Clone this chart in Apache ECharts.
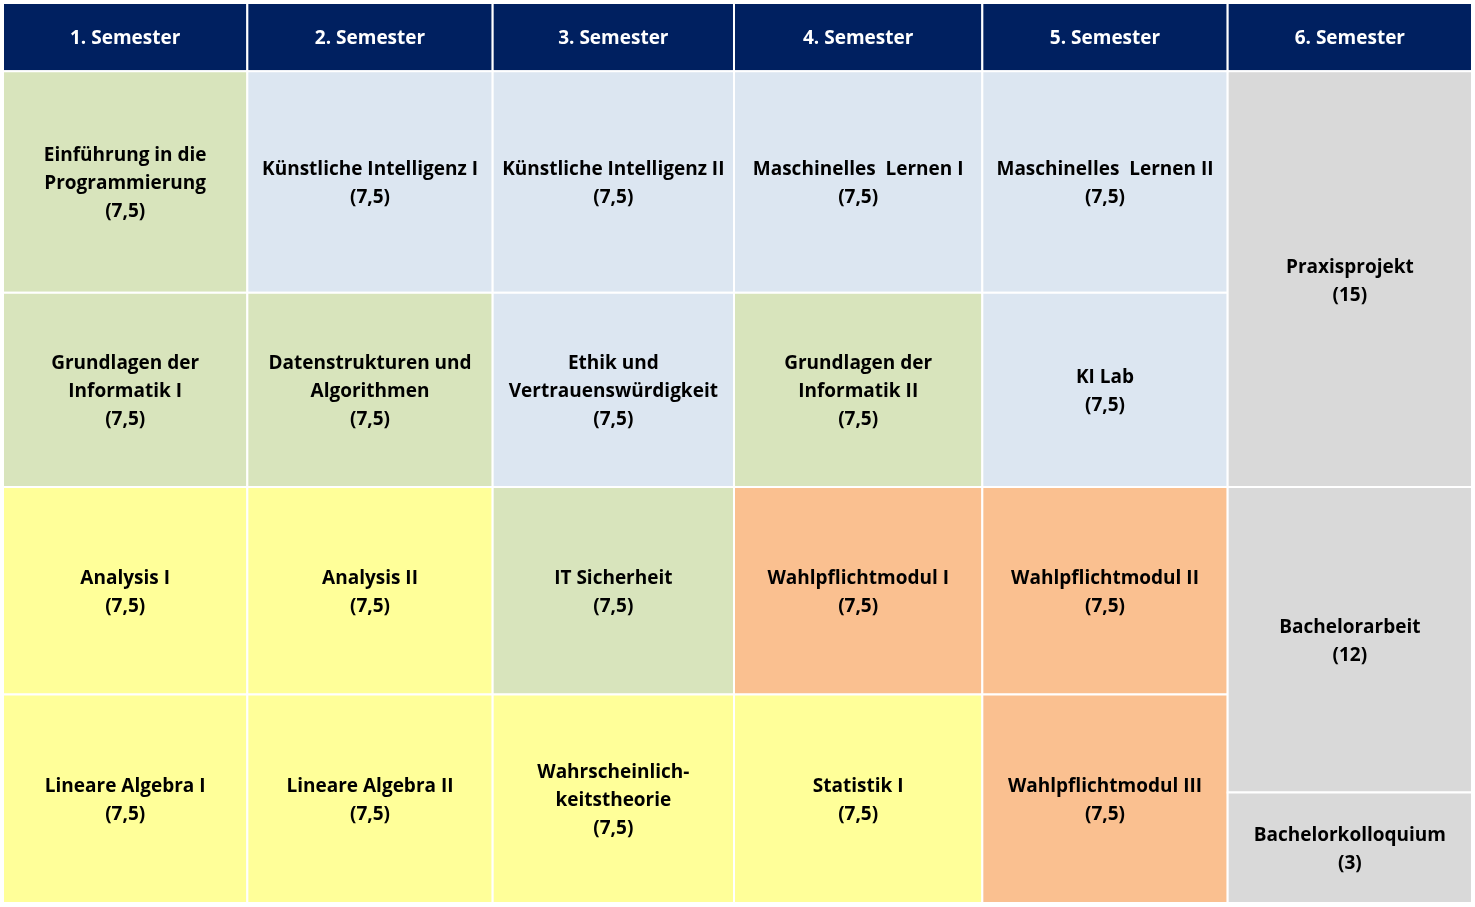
<!DOCTYPE html>
<html>
<head>
<meta charset="utf-8">
<script src="https://cdn.jsdelivr.net/npm/echarts@6/dist/echarts.min.js"></script>
<style>
html,body{margin:0;padding:0;background:#fff;}
#chart{width:1475px;height:907px;}
</style>
</head>
<body>
<div id="chart"></div>
<script>
// ---- data ----
var semesters = ['1. Semester', '2. Semester', '3. Semester', '4. Semester', '5. Semester', '6. Semester'];
var moduleNames = [
  'Einführung in die\nProgrammierung', 'Grundlagen der\nInformatik I', 'Analysis I', 'Lineare Algebra I',
  'Künstliche Intelligenz I', 'Datenstrukturen und\nAlgorithmen', 'Analysis II', 'Lineare Algebra II',
  'Künstliche Intelligenz II', 'Ethik und\nVertrauenswürdigkeit', 'IT Sicherheit', 'Wahrscheinlich-\nkeitstheorie',
  'Maschinelles  Lernen I', 'Grundlagen der\nInformatik II', 'Wahlpflichtmodul I', 'Statistik I',
  'Maschinelles  Lernen II', 'KI Lab', 'Wahlpflichtmodul II', 'Wahlpflichtmodul III',
  'Praxisprojekt', 'Bachelorarbeit', 'Bachelorkolloquium'
];
var moduleSemester = [1,1,1,1, 2,2,2,2, 3,3,3,3, 4,4,4,4, 5,5,5,5, 6,6,6];
var moduleRowStart = [1,2,3,4, 1,2,3,4, 1,2,3,4, 1,2,3,4, 1,2,3,4, 1,3,4.47];
var moduleRowSpan  = [1,1,1,1, 1,1,1,1, 1,1,1,1, 1,1,1,1, 1,1,1,1, 2,1.47,0.53];
var moduleEcts     = [7.5,7.5,7.5,7.5, 7.5,7.5,7.5,7.5, 7.5,7.5,7.5,7.5, 7.5,7.5,7.5,7.5, 7.5,7.5,7.5,7.5, 15,12,3];
var moduleType = [
  'informatik','informatik','mathe','mathe',
  'ki','informatik','mathe','mathe',
  'ki','ki','informatik','mathe',
  'ki','informatik','wahl','mathe',
  'ki','ki','wahl','wahl',
  'abschluss','abschluss','abschluss'
];

// ---- layout / style ----
var typeColors = {
  header: '#002060',
  informatik: '#D8E4BC',
  ki: '#DCE6F1',
  mathe: '#FFFF99',
  wahl: '#FAC090',
  abschluss: '#D9D9D9'
};
var colWidths = [244, 245, 241, 248, 245, 244];
var rowHeights = [68, 221, 194, 207, 208];
var colEdges = [0]; colWidths.forEach(function(w, i){ colEdges.push(colEdges[i] + w); });
var rowEdges = [0]; rowHeights.forEach(function(h, i){ rowEdges.push(rowEdges[i] + h); });
function rowPos(r){ var i = Math.floor(r); if (i >= rowHeights.length) return rowEdges[rowEdges.length-1]; return rowEdges[i] + (r - i) * rowHeights[i]; }
function fmtEcts(v){ return '(' + String(v).replace('.', ',') + ')'; }

var FONT = '"Open Sans", Lato, sans-serif';

var cells = [];
semesters.forEach(function(s, i){
  cells.push({ value: [i + 1, 0, 1, s], type: 'header' });
});
moduleNames.forEach(function(n, i){
  cells.push({ value: [moduleSemester[i], moduleRowStart[i], moduleRowSpan[i], n + '\n' + fmtEcts(moduleEcts[i])], type: moduleType[i] });
});

function renderItem(params, api){
  var cell = cells[params.dataIndex];
  var sem = api.value(0), r0 = api.value(1), span = api.value(2);
  var p0 = api.coord([colEdges[sem - 1], rowPos(r0)]);
  var p1 = api.coord([colEdges[sem], rowPos(r0 + span)]);
  var isHeader = cell.type === 'header';
  return {
    type: 'rect',
    shape: { x: p0[0], y: p0[1], width: p1[0] - p0[0], height: p1[1] - p0[1] },
    style: { fill: typeColors[cell.type], stroke: '#ffffff', lineWidth: 2 },
    textContent: {
      style: {
        text: cell.value[3],
        fill: isHeader ? '#ffffff' : '#000000',
        font: 'bold 19px ' + FONT,
        lineHeight: 28,
        align: 'center',
        verticalAlign: 'middle'
      }
    },
    textConfig: { position: 'inside', offset: [0, 2] }
  };
}

var chart = echarts.init(document.getElementById('chart'), null, { renderer: 'canvas' });
chart.setOption({
  animation: false,
  backgroundColor: '#ffffff',
  grid: { left: 3, right: 3, top: 3, bottom: 4 },
  xAxis: { type: 'value', min: 0, max: colEdges[colEdges.length - 1], show: false },
  yAxis: { type: 'value', min: 0, max: rowEdges[rowEdges.length - 1], inverse: true, show: false },
  series: [{
    type: 'custom',
    renderItem: renderItem,
    data: cells.map(function(c){ return c.value; }),
    encode: { x: 0, y: 1 },
    clip: false
  }]
});
</script>
</body>
</html>
